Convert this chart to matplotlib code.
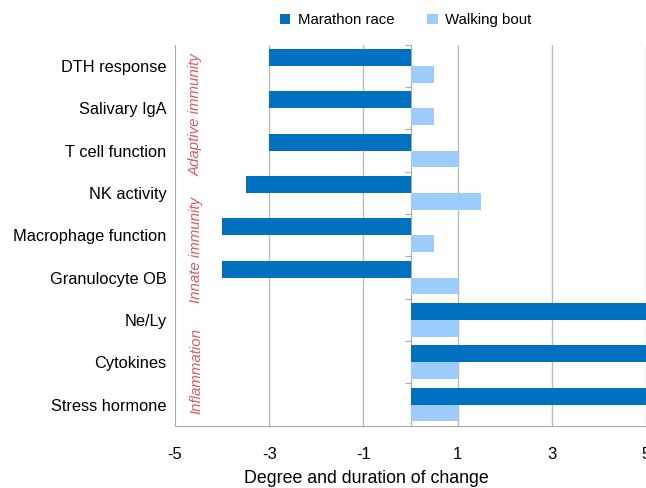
import matplotlib.pyplot as plt
import numpy as np

plt.rcParams['font.family'] = ['Liberation Sans', 'DejaVu Sans']

categories = ["DTH response", "Salivary IgA", "T cell function", "NK activity",
              "Macrophage function", "Granulocyte OB", "Ne/Ly", "Cytokines",
              "Stress hormone"]
marathon = [-3, -3, -3, -3.5, -4, -4, 5, 5, 5]
walking = [0.5, 0.5, 1, 1.5, 0.5, 1, 1, 1, 1]
groups = ["Adaptive immunity", "Innate immunity", "Inflammation"]
group_centers = [1.15, 4.35, 7.2]
xticks = [-5, -3, -1, 1, 3, 5]

fig = plt.figure(figsize=(6.46, 4.88), dpi=100)
ax = fig.add_axes([175 / 646, 1 - 425.7 / 488, 1 - 175 / 646, (425.7 - 44.7) / 488])

y = np.arange(len(categories))
h = 0.4
ax.barh(y - h / 2, marathon, height=h, color="#0070C0", label="Marathon race", zorder=3)
ax.barh(y + h / 2, walking, height=h, color="#9DCDFF", label="Walking bout", zorder=3)

ax.set_xlim(-5, 5)
ax.set_ylim(len(categories) - 0.5, -0.5)
ax.set_yticks(y)
ax.set_yticklabels(categories, fontsize=11.8)
ax.tick_params(axis='y', length=0, pad=6)
ax.set_xticks(xticks)
ax.set_xticklabels([str(t) for t in xticks], fontsize=12)
ax.tick_params(axis='x', length=0, pad=15)
ax.set_xlabel("Degree and duration of change", fontsize=12.8, labelpad=7)
ax.xaxis.set_label_coords((366 - 175) / (646 - 175), -0.115)

for g in xticks[1:]:
    ax.axvline(g, color="#BBBBBB", lw=1, zorder=1)

for side in ["top", "right"]:
    ax.spines[side].set_visible(False)
for side in ["left", "bottom"]:
    ax.spines[side].set_color("#AAAAAA")

# zero line with category boundary ticks
sec = ax.secondary_yaxis(0.5)
sec.set_alignment('left')
sec.set_yticks(np.arange(-0.5, len(categories), 1))
sec.set_yticklabels([])
sec.tick_params(length=4, color="#AAAAAA")
sec.spines['left'].set_color("#AAAAAA")

for name, c in zip(groups, group_centers):
    ax.text(-4.55, c, name, rotation=90, ha="center", va="center",
            color="#E05A62", fontsize=10.8, style="italic")

ax.legend(loc="lower center", bbox_to_anchor=(0.49, 1.01), ncol=2, frameon=False,
          fontsize=10.8, handlelength=0.7, handleheight=0.7, handletextpad=0.5,
          columnspacing=2.2)

fig.savefig("out.png", dpi=100)
